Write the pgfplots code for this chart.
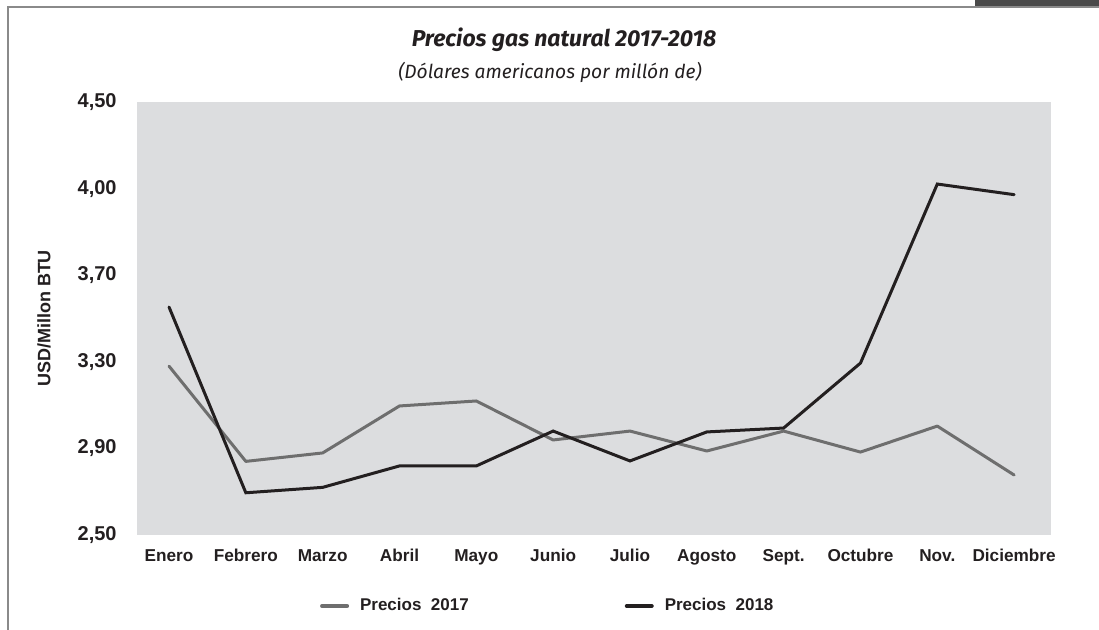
\documentclass[border=0pt]{standalone}
\usepackage{fontspec}
\setmainfont{Liberation Sans}
\newfontfamily\titlefont{Fira Sans}
\usepackage{pgfplots}
\pgfplotsset{compat=1.18}
\definecolor{bgc}{HTML}{DCDDDF}
\definecolor{g17}{HTML}{6E6E6E}
\definecolor{g18}{HTML}{231F20}
\definecolor{framec}{HTML}{8A8A8A}
\definecolor{tabc}{HTML}{4A4A4A}
\begin{document}
\begin{tikzpicture}
\useasboundingbox (0,0) rectangle (549.5pt,315pt);
\fill[tabc] (487.5pt,312pt) rectangle (549.5pt,315pt);
\draw[framec, line width=0.8pt] (4pt,0pt) -- (4pt,311.5pt) -- (549.5pt,311.5pt);
\node[font=\titlefont\bfseries\itshape\fontsize{11.5}{13}\selectfont, text=g18] at (282pt,295pt) {Precios gas natural 2017-2018};
\node[font=\titlefont\itshape\fontsize{9.6}{11}\selectfont, text=g18] at (275pt,279pt) {(Dólares americanos por millón de)};
\begin{axis}[
  at={(68.5pt,47.5pt)}, anchor=south west,
  width=457pt, height=216.5pt, scale only axis,
  xmin=-0.4167, xmax=11.48,
  ymin=2.5, ymax=4.5,
  axis background/.style={fill=bgc},
  axis line style={draw=none},
  major tick length=0pt,
  xtick={0,1,2,3,4,5,6,7,8,9,10,11},
  xticklabels={Enero,Febrero,Marzo,Abril,Mayo,Junio,Julio,Agosto,Sept.,Octubre,Nov.,Diciembre},
  ytick={2.5,2.9,3.3,3.7,4.1,4.5},
  yticklabels={{2,50},{2,90},{3,30},{3,70},{4,00},{4,50}},
  xticklabel style={anchor=base, yshift=-13.5pt, inner sep=0pt, font=\bfseries\fontsize{8.6}{10}\selectfont, text=g18},
  yticklabel style={anchor=east, xshift=-10pt, inner sep=0pt, font=\bfseries\fontsize{10}{12}\selectfont, text=g18},
  ylabel={USD/Millon BTU},
  every axis y label/.style={at={(rel axis cs:-0.1018,0.5)}, rotate=90, anchor=center, font=\bfseries\fontsize{9}{11}\selectfont, text=g18},
  legend style={at={(0.4505,-0.164)}, anchor=center, draw=none, fill=none, legend columns=2,
    font=\bfseries\fontsize{8.5}{10}\selectfont, text=g18,
    /tikz/every even column/.append style={column sep=76pt}},
  legend image code/.code={\draw[#1, line width=2pt] (0pt,0pt) -- (12.5pt,0pt);},
  clip=false,
]
\addplot[g17, line width=1.5pt, line join=round, line cap=round] coordinates {
 (0,3.28) (1,2.84) (2,2.879) (3,3.096) (4,3.119) (5,2.939) (6,2.98) (7,2.888) (8,2.98) (9,2.883) (10,3.003) (11,2.777)};
\addlegendentry{\hspace{3.5pt}Precios\ \ 2017}
\addplot[g18, line width=1.5pt, line join=miter, line cap=round] coordinates {
 (0,3.553) (1,2.695) (2,2.72) (3,2.819) (4,2.819) (5,2.98) (6,2.842) (7,2.976) (8,2.994) (9,3.294) (10,4.121) (11,4.072)};
\addlegendentry{\hspace{3.5pt}Precios\ \ 2018}
\end{axis}
\end{tikzpicture}
\end{document}
